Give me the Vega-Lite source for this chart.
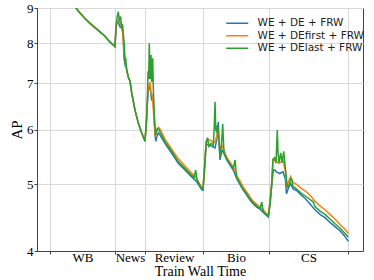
{
"$schema": "https://vega.github.io/schema/vega-lite/v6.json",
"width": 326, "height": 243,
"autosize": {"type": "none"},
"padding": {"left": 37, "top": 8, "right": 11, "bottom": 29},
"config": {"view": {"stroke": "#444", "strokeWidth": 1}, "font": "Liberation Serif"},
"data": {"values": [
{"s":"WE + DE + FRW","t":50,"ap":10.0},{"s":"WE + DE + FRW","t":60,"ap":9.6},{"s":"WE + DE + FRW","t":70,"ap":9.23},{"s":"WE + DE + FRW","t":76,"ap":9.0},{"s":"WE + DE + FRW","t":80,"ap":8.85},{"s":"WE + DE + FRW","t":85,"ap":8.69},{"s":"WE + DE + FRW","t":90,"ap":8.55},{"s":"WE + DE + FRW","t":95,"ap":8.43},{"s":"WE + DE + FRW","t":100,"ap":8.31},{"s":"WE + DE + FRW","t":105,"ap":8.19},{"s":"WE + DE + FRW","t":110,"ap":8.03},{"s":"WE + DE + FRW","t":114,"ap":7.94},{"s":"WE + DE + FRW","t":115,"ap":7.91},
{"s":"WE + DE + FRW","t":116,"ap":8.36},{"s":"WE + DE + FRW","t":116.7,"ap":8.55},{"s":"WE + DE + FRW","t":118.3,"ap":8.59},{"s":"WE + DE + FRW","t":120,"ap":8.45},{"s":"WE + DE + FRW","t":121.7,"ap":8.42},{"s":"WE + DE + FRW","t":123,"ap":8.27},{"s":"WE + DE + FRW","t":124,"ap":7.62},{"s":"WE + DE + FRW","t":125.2,"ap":7.42},{"s":"WE + DE + FRW","t":126,"ap":7.40},{"s":"WE + DE + FRW","t":126.7,"ap":7.32},{"s":"WE + DE + FRW","t":128.3,"ap":7.15},{"s":"WE + DE + FRW","t":130,"ap":7.05},{"s":"WE + DE + FRW","t":131.7,"ap":6.78},{"s":"WE + DE + FRW","t":135,"ap":6.40},{"s":"WE + DE + FRW","t":138.3,"ap":6.13},{"s":"WE + DE + FRW","t":141.7,"ap":5.93},{"s":"WE + DE + FRW","t":145,"ap":5.77},
{"s":"WE + DE + FRW","t":146.5,"ap":6.17},{"s":"WE + DE + FRW","t":147.3,"ap":6.51},{"s":"WE + DE + FRW","t":148.3,"ap":6.82},{"s":"WE + DE + FRW","t":149,"ap":6.89},{"s":"WE + DE + FRW","t":150,"ap":6.96},{"s":"WE + DE + FRW","t":151,"ap":6.73},{"s":"WE + DE + FRW","t":151.7,"ap":6.62},{"s":"WE + DE + FRW","t":153.3,"ap":6.58},{"s":"WE + DE + FRW","t":155,"ap":5.89},{"s":"WE + DE + FRW","t":155.8,"ap":5.77},{"s":"WE + DE + FRW","t":157,"ap":5.87},{"s":"WE + DE + FRW","t":158.5,"ap":5.93},{"s":"WE + DE + FRW","t":160,"ap":5.89},{"s":"WE + DE + FRW","t":165,"ap":5.73},{"s":"WE + DE + FRW","t":171.7,"ap":5.54},{"s":"WE + DE + FRW","t":178.3,"ap":5.36},{"s":"WE + DE + FRW","t":185,"ap":5.24},{"s":"WE + DE + FRW","t":191.7,"ap":5.12},{"s":"WE + DE + FRW","t":196.7,"ap":5.04},{"s":"WE + DE + FRW","t":201.7,"ap":4.91},{"s":"WE + DE + FRW","t":203,"ap":4.90},
{"s":"WE + DE + FRW","t":205,"ap":5.35},{"s":"WE + DE + FRW","t":206,"ap":5.67},{"s":"WE + DE + FRW","t":207.3,"ap":5.71},{"s":"WE + DE + FRW","t":210,"ap":5.69},{"s":"WE + DE + FRW","t":213.3,"ap":5.66},{"s":"WE + DE + FRW","t":215,"ap":5.64},{"s":"WE + DE + FRW","t":217,"ap":5.83},{"s":"WE + DE + FRW","t":218.3,"ap":6.15},{"s":"WE + DE + FRW","t":219,"ap":5.79},{"s":"WE + DE + FRW","t":220,"ap":5.42},{"s":"WE + DE + FRW","t":222,"ap":5.60},{"s":"WE + DE + FRW","t":224,"ap":5.54},{"s":"WE + DE + FRW","t":226.7,"ap":5.42},{"s":"WE + DE + FRW","t":230,"ap":5.33},{"s":"WE + DE + FRW","t":233.3,"ap":5.24},{"s":"WE + DE + FRW","t":236.7,"ap":5.09},{"s":"WE + DE + FRW","t":240,"ap":4.99},{"s":"WE + DE + FRW","t":243.3,"ap":4.90},{"s":"WE + DE + FRW","t":246.7,"ap":4.82},{"s":"WE + DE + FRW","t":250,"ap":4.74},{"s":"WE + DE + FRW","t":253.3,"ap":4.68},{"s":"WE + DE + FRW","t":256.7,"ap":4.63},{"s":"WE + DE + FRW","t":260,"ap":4.60},{"s":"WE + DE + FRW","t":263.3,"ap":4.55},{"s":"WE + DE + FRW","t":266,"ap":4.51},{"s":"WE + DE + FRW","t":268.3,"ap":4.48},
{"s":"WE + DE + FRW","t":270,"ap":4.66},{"s":"WE + DE + FRW","t":271.7,"ap":4.97},{"s":"WE + DE + FRW","t":273.3,"ap":5.24},{"s":"WE + DE + FRW","t":275,"ap":5.24},{"s":"WE + DE + FRW","t":276.3,"ap":5.21},{"s":"WE + DE + FRW","t":279.7,"ap":5.18},{"s":"WE + DE + FRW","t":283,"ap":5.21},{"s":"WE + DE + FRW","t":285.3,"ap":5.09},{"s":"WE + DE + FRW","t":286.5,"ap":4.84},{"s":"WE + DE + FRW","t":288.7,"ap":4.95},{"s":"WE + DE + FRW","t":290.7,"ap":5.01},{"s":"WE + DE + FRW","t":293,"ap":4.92},{"s":"WE + DE + FRW","t":296.3,"ap":4.90},{"s":"WE + DE + FRW","t":301.3,"ap":4.82},{"s":"WE + DE + FRW","t":305,"ap":4.77},{"s":"WE + DE + FRW","t":310,"ap":4.68},{"s":"WE + DE + FRW","t":315,"ap":4.59},{"s":"WE + DE + FRW","t":320,"ap":4.52},{"s":"WE + DE + FRW","t":325,"ap":4.47},{"s":"WE + DE + FRW","t":330,"ap":4.40},{"s":"WE + DE + FRW","t":335,"ap":4.34},{"s":"WE + DE + FRW","t":340,"ap":4.28},{"s":"WE + DE + FRW","t":345,"ap":4.20},{"s":"WE + DE + FRW","t":348.3,"ap":4.13},

{"s":"WE + DEfirst + FRW","t":50,"ap":10.0},{"s":"WE + DEfirst + FRW","t":60,"ap":9.6},{"s":"WE + DEfirst + FRW","t":70,"ap":9.23},{"s":"WE + DEfirst + FRW","t":76,"ap":9.0},{"s":"WE + DEfirst + FRW","t":80,"ap":8.85},{"s":"WE + DEfirst + FRW","t":85,"ap":8.69},{"s":"WE + DEfirst + FRW","t":90,"ap":8.55},{"s":"WE + DEfirst + FRW","t":95,"ap":8.43},{"s":"WE + DEfirst + FRW","t":100,"ap":8.31},{"s":"WE + DEfirst + FRW","t":105,"ap":8.19},{"s":"WE + DEfirst + FRW","t":110,"ap":8.03},{"s":"WE + DEfirst + FRW","t":114,"ap":7.94},{"s":"WE + DEfirst + FRW","t":115,"ap":7.91},
{"s":"WE + DEfirst + FRW","t":116,"ap":8.44},{"s":"WE + DEfirst + FRW","t":117,"ap":8.58},{"s":"WE + DEfirst + FRW","t":119,"ap":8.66},{"s":"WE + DEfirst + FRW","t":121,"ap":8.51},{"s":"WE + DEfirst + FRW","t":122.5,"ap":8.36},{"s":"WE + DEfirst + FRW","t":124,"ap":7.82},{"s":"WE + DEfirst + FRW","t":125,"ap":7.57},{"s":"WE + DEfirst + FRW","t":126.7,"ap":7.32},{"s":"WE + DEfirst + FRW","t":128.3,"ap":7.15},{"s":"WE + DEfirst + FRW","t":130,"ap":7.05},{"s":"WE + DEfirst + FRW","t":131.7,"ap":6.78},{"s":"WE + DEfirst + FRW","t":135,"ap":6.40},{"s":"WE + DEfirst + FRW","t":138.3,"ap":6.13},{"s":"WE + DEfirst + FRW","t":141.7,"ap":5.93},{"s":"WE + DEfirst + FRW","t":145,"ap":5.77},
{"s":"WE + DEfirst + FRW","t":146.5,"ap":6.22},{"s":"WE + DEfirst + FRW","t":147.3,"ap":6.62},{"s":"WE + DEfirst + FRW","t":148.3,"ap":6.89},{"s":"WE + DEfirst + FRW","t":150,"ap":7.03},{"s":"WE + DEfirst + FRW","t":151,"ap":6.80},{"s":"WE + DEfirst + FRW","t":152.5,"ap":6.71},{"s":"WE + DEfirst + FRW","t":154,"ap":6.19},{"s":"WE + DEfirst + FRW","t":155.5,"ap":5.85},{"s":"WE + DEfirst + FRW","t":157,"ap":5.99},{"s":"WE + DEfirst + FRW","t":158.5,"ap":6.04},{"s":"WE + DEfirst + FRW","t":160,"ap":6.01},{"s":"WE + DEfirst + FRW","t":165,"ap":5.81},{"s":"WE + DEfirst + FRW","t":171.7,"ap":5.62},{"s":"WE + DEfirst + FRW","t":178.3,"ap":5.44},{"s":"WE + DEfirst + FRW","t":185,"ap":5.31},{"s":"WE + DEfirst + FRW","t":191.7,"ap":5.19},{"s":"WE + DEfirst + FRW","t":196.7,"ap":5.09},{"s":"WE + DEfirst + FRW","t":201.7,"ap":4.94},{"s":"WE + DEfirst + FRW","t":203,"ap":4.93},
{"s":"WE + DEfirst + FRW","t":205,"ap":5.42},{"s":"WE + DEfirst + FRW","t":206,"ap":5.77},{"s":"WE + DEfirst + FRW","t":208,"ap":5.81},{"s":"WE + DEfirst + FRW","t":210,"ap":5.79},{"s":"WE + DEfirst + FRW","t":213.3,"ap":5.75},{"s":"WE + DEfirst + FRW","t":215,"ap":5.75},{"s":"WE + DEfirst + FRW","t":217,"ap":5.89},{"s":"WE + DEfirst + FRW","t":218.3,"ap":5.99},{"s":"WE + DEfirst + FRW","t":220,"ap":5.60},{"s":"WE + DEfirst + FRW","t":222,"ap":5.69},{"s":"WE + DEfirst + FRW","t":224,"ap":5.60},{"s":"WE + DEfirst + FRW","t":226.7,"ap":5.47},{"s":"WE + DEfirst + FRW","t":230,"ap":5.38},{"s":"WE + DEfirst + FRW","t":233.3,"ap":5.29},{"s":"WE + DEfirst + FRW","t":236.7,"ap":5.15},{"s":"WE + DEfirst + FRW","t":240,"ap":5.05},{"s":"WE + DEfirst + FRW","t":243.3,"ap":4.95},{"s":"WE + DEfirst + FRW","t":246.7,"ap":4.87},{"s":"WE + DEfirst + FRW","t":250,"ap":4.79},{"s":"WE + DEfirst + FRW","t":253.3,"ap":4.72},{"s":"WE + DEfirst + FRW","t":256.7,"ap":4.68},{"s":"WE + DEfirst + FRW","t":260,"ap":4.63},{"s":"WE + DEfirst + FRW","t":263.3,"ap":4.59},{"s":"WE + DEfirst + FRW","t":266,"ap":4.54},{"s":"WE + DEfirst + FRW","t":268.3,"ap":4.51},
{"s":"WE + DEfirst + FRW","t":270,"ap":4.74},{"s":"WE + DEfirst + FRW","t":271.7,"ap":5.03},{"s":"WE + DEfirst + FRW","t":273,"ap":5.43},{"s":"WE + DEfirst + FRW","t":275,"ap":5.41},{"s":"WE + DEfirst + FRW","t":279,"ap":5.36},{"s":"WE + DEfirst + FRW","t":283,"ap":5.41},{"s":"WE + DEfirst + FRW","t":285.3,"ap":5.22},{"s":"WE + DEfirst + FRW","t":286.7,"ap":4.95},{"s":"WE + DEfirst + FRW","t":288.7,"ap":5.05},{"s":"WE + DEfirst + FRW","t":290.7,"ap":5.13},{"s":"WE + DEfirst + FRW","t":293,"ap":5.03},{"s":"WE + DEfirst + FRW","t":296.3,"ap":5.00},{"s":"WE + DEfirst + FRW","t":301.3,"ap":4.93},{"s":"WE + DEfirst + FRW","t":305,"ap":4.89},{"s":"WE + DEfirst + FRW","t":310,"ap":4.82},{"s":"WE + DEfirst + FRW","t":315,"ap":4.72},{"s":"WE + DEfirst + FRW","t":320,"ap":4.65},{"s":"WE + DEfirst + FRW","t":325,"ap":4.59},{"s":"WE + DEfirst + FRW","t":330,"ap":4.52},{"s":"WE + DEfirst + FRW","t":335,"ap":4.45},{"s":"WE + DEfirst + FRW","t":340,"ap":4.37},{"s":"WE + DEfirst + FRW","t":345,"ap":4.30},{"s":"WE + DEfirst + FRW","t":348.3,"ap":4.24},

{"s":"WE + DElast + FRW","t":50,"ap":10.0},{"s":"WE + DElast + FRW","t":60,"ap":9.6},{"s":"WE + DElast + FRW","t":70,"ap":9.23},{"s":"WE + DElast + FRW","t":76,"ap":9.0},{"s":"WE + DElast + FRW","t":80,"ap":8.85},{"s":"WE + DElast + FRW","t":85,"ap":8.69},{"s":"WE + DElast + FRW","t":90,"ap":8.55},{"s":"WE + DElast + FRW","t":95,"ap":8.43},{"s":"WE + DElast + FRW","t":100,"ap":8.31},{"s":"WE + DElast + FRW","t":105,"ap":8.19},{"s":"WE + DElast + FRW","t":110,"ap":8.03},{"s":"WE + DElast + FRW","t":114,"ap":7.94},{"s":"WE + DElast + FRW","t":115,"ap":7.91},
{"s":"WE + DElast + FRW","t":116,"ap":8.51},{"s":"WE + DElast + FRW","t":117,"ap":8.70},{"s":"WE + DElast + FRW","t":118.3,"ap":8.89},{"s":"WE + DElast + FRW","t":119.3,"ap":8.65},{"s":"WE + DElast + FRW","t":120.7,"ap":8.75},{"s":"WE + DElast + FRW","t":121.7,"ap":8.41},{"s":"WE + DElast + FRW","t":122.5,"ap":8.53},{"s":"WE + DElast + FRW","t":123.3,"ap":8.26},{"s":"WE + DElast + FRW","t":124.3,"ap":7.95},{"s":"WE + DElast + FRW","t":125,"ap":7.53},{"s":"WE + DElast + FRW","t":125.7,"ap":7.62},{"s":"WE + DElast + FRW","t":126.7,"ap":7.32},{"s":"WE + DElast + FRW","t":128.3,"ap":7.15},{"s":"WE + DElast + FRW","t":130,"ap":7.05},{"s":"WE + DElast + FRW","t":131.7,"ap":6.78},{"s":"WE + DElast + FRW","t":135,"ap":6.40},{"s":"WE + DElast + FRW","t":138.3,"ap":6.13},{"s":"WE + DElast + FRW","t":141.7,"ap":5.93},{"s":"WE + DElast + FRW","t":145,"ap":5.77},
{"s":"WE + DElast + FRW","t":146.5,"ap":6.19},{"s":"WE + DElast + FRW","t":147.3,"ap":6.58},{"s":"WE + DElast + FRW","t":148,"ap":7.29},{"s":"WE + DElast + FRW","t":148.7,"ap":7.10},{"s":"WE + DElast + FRW","t":149.3,"ap":8.00},{"s":"WE + DElast + FRW","t":150,"ap":7.10},{"s":"WE + DElast + FRW","t":151,"ap":7.69},{"s":"WE + DElast + FRW","t":151.7,"ap":7.03},{"s":"WE + DElast + FRW","t":152.7,"ap":7.61},{"s":"WE + DElast + FRW","t":153.3,"ap":6.89},{"s":"WE + DElast + FRW","t":154.3,"ap":6.30},{"s":"WE + DElast + FRW","t":155.7,"ap":5.89},{"s":"WE + DElast + FRW","t":157.3,"ap":6.02},{"s":"WE + DElast + FRW","t":158.5,"ap":6.02},{"s":"WE + DElast + FRW","t":160,"ap":5.95},{"s":"WE + DElast + FRW","t":165,"ap":5.76},{"s":"WE + DElast + FRW","t":171.7,"ap":5.58},{"s":"WE + DElast + FRW","t":178.3,"ap":5.39},{"s":"WE + DElast + FRW","t":185,"ap":5.27},{"s":"WE + DElast + FRW","t":191.7,"ap":5.15},{"s":"WE + DElast + FRW","t":194,"ap":5.11},{"s":"WE + DElast + FRW","t":195.7,"ap":5.24},{"s":"WE + DElast + FRW","t":197,"ap":5.07},{"s":"WE + DElast + FRW","t":201.7,"ap":4.93},{"s":"WE + DElast + FRW","t":203,"ap":4.91},
{"s":"WE + DElast + FRW","t":205,"ap":5.42},{"s":"WE + DElast + FRW","t":206,"ap":5.71},{"s":"WE + DElast + FRW","t":207.5,"ap":5.84},{"s":"WE + DElast + FRW","t":209,"ap":5.67},{"s":"WE + DElast + FRW","t":211,"ap":5.73},{"s":"WE + DElast + FRW","t":213.3,"ap":5.69},{"s":"WE + DElast + FRW","t":214.3,"ap":6.09},{"s":"WE + DElast + FRW","t":215,"ap":6.58},{"s":"WE + DElast + FRW","t":215.8,"ap":5.99},{"s":"WE + DElast + FRW","t":216.7,"ap":5.96},{"s":"WE + DElast + FRW","t":217.5,"ap":6.09},{"s":"WE + DElast + FRW","t":218.3,"ap":5.89},{"s":"WE + DElast + FRW","t":219,"ap":5.79},{"s":"WE + DElast + FRW","t":220,"ap":5.46},{"s":"WE + DElast + FRW","t":221.5,"ap":5.71},{"s":"WE + DElast + FRW","t":222.7,"ap":6.11},{"s":"WE + DElast + FRW","t":224,"ap":5.54},{"s":"WE + DElast + FRW","t":226.7,"ap":5.44},{"s":"WE + DElast + FRW","t":230,"ap":5.35},{"s":"WE + DElast + FRW","t":233.3,"ap":5.27},{"s":"WE + DElast + FRW","t":235,"ap":5.42},{"s":"WE + DElast + FRW","t":236.7,"ap":5.11},{"s":"WE + DElast + FRW","t":240,"ap":5.01},{"s":"WE + DElast + FRW","t":243.3,"ap":4.91},{"s":"WE + DElast + FRW","t":246.7,"ap":4.84},{"s":"WE + DElast + FRW","t":250,"ap":4.76},{"s":"WE + DElast + FRW","t":253.3,"ap":4.70},{"s":"WE + DElast + FRW","t":256.7,"ap":4.65},{"s":"WE + DElast + FRW","t":260,"ap":4.61},{"s":"WE + DElast + FRW","t":261.7,"ap":4.71},{"s":"WE + DElast + FRW","t":263.3,"ap":4.56},{"s":"WE + DElast + FRW","t":266,"ap":4.52},{"s":"WE + DElast + FRW","t":268.3,"ap":4.49},
{"s":"WE + DElast + FRW","t":270,"ap":4.69},{"s":"WE + DElast + FRW","t":271.7,"ap":5.00},{"s":"WE + DElast + FRW","t":273,"ap":5.43},{"s":"WE + DElast + FRW","t":274.7,"ap":5.46},{"s":"WE + DElast + FRW","t":276,"ap":5.36},{"s":"WE + DElast + FRW","t":277.3,"ap":5.99},{"s":"WE + DElast + FRW","t":278,"ap":5.55},{"s":"WE + DElast + FRW","t":279,"ap":5.37},{"s":"WE + DElast + FRW","t":280.7,"ap":5.55},{"s":"WE + DElast + FRW","t":282,"ap":5.37},{"s":"WE + DElast + FRW","t":283.7,"ap":5.58},{"s":"WE + DElast + FRW","t":284.7,"ap":5.39},{"s":"WE + DElast + FRW","t":286.3,"ap":5.12},{"s":"WE + DElast + FRW","t":287.3,"ap":4.95},{"s":"WE + DElast + FRW","t":289,"ap":4.98},{"s":"WE + DElast + FRW","t":290.7,"ap":5.09},{"s":"WE + DElast + FRW","t":292,"ap":5.07},{"s":"WE + DElast + FRW","t":293,"ap":4.95},{"s":"WE + DElast + FRW","t":294.7,"ap":4.95},{"s":"WE + DElast + FRW","t":298,"ap":4.90},{"s":"WE + DElast + FRW","t":301.3,"ap":4.85},{"s":"WE + DElast + FRW","t":305,"ap":4.81},{"s":"WE + DElast + FRW","t":310,"ap":4.75},{"s":"WE + DElast + FRW","t":313.3,"ap":4.71},{"s":"WE + DElast + FRW","t":315,"ap":4.64},{"s":"WE + DElast + FRW","t":320,"ap":4.57},{"s":"WE + DElast + FRW","t":325,"ap":4.52},{"s":"WE + DElast + FRW","t":330,"ap":4.45},{"s":"WE + DElast + FRW","t":335,"ap":4.38},{"s":"WE + DElast + FRW","t":340,"ap":4.32},{"s":"WE + DElast + FRW","t":345,"ap":4.24},{"s":"WE + DElast + FRW","t":348.3,"ap":4.19}
]},
"mark": {"type": "line", "strokeWidth": 1.5, "clip": true},
"encoding": {
  "x": {"field": "t", "type": "quantitative",
    "scale": {"domain": [37, 363], "nice": false, "zero": false},
    "axis": {
      "values": [50, 82.5, 115, 130, 145, 174, 203, 236, 269, 308.5, 348],
      "labelExpr": "datum.value == 82.5 ? 'WB' : datum.value == 130 ? 'News' : datum.value == 174 ? 'Review' : datum.value == 236 ? 'Bio' : datum.value == 308.5 ? 'CS' : ''",
      "labelOverlap": false, "labelFlush": false, "labelBound": false,
      "labelFont": "Liberation Serif", "labelFontSize": 13, "labelColor": "#000", "labelPadding": -3,
      "tickSize": 3, "tickColor": "#444",
      "tickOpacity": {"condition": {"test": "datum.value == 50 || datum.value == 115 || datum.value == 145 || datum.value == 203 || datum.value == 269 || datum.value == 348", "value": 1}, "value": 0},
      "grid": true, "gridColor": "#d8d8d8",
      "gridOpacity": {"condition": {"test": "datum.value == 50 || datum.value == 115 || datum.value == 145 || datum.value == 203 || datum.value == 269 || datum.value == 348", "value": 1}, "value": 0},
      "domainColor": "#444",
      "title": "Train Wall Time", "titleFont": "Liberation Serif", "titleFontSize": 14, "titleFontWeight": "normal", "titleColor": "#000", "titlePadding": 0
    }},
  "y": {"field": "ap", "type": "quantitative",
    "scale": {"type": "log", "domain": [4, 9], "nice": false},
    "axis": {
      "values": [4, 5, 6, 7, 8, 9],
      "labelFont": "Liberation Serif", "labelFontSize": 13, "labelColor": "#000", "labelPadding": 1,
      "tickSize": 3, "tickColor": "#444", "domainColor": "#444",
      "grid": true, "gridColor": "#d8d8d8",
      "title": "AP", "titleFont": "Liberation Serif", "titleFontSize": 15, "titleFontWeight": "normal", "titleColor": "#000", "titlePadding": 2
    }},
  "color": {"field": "s", "type": "nominal",
    "scale": {"domain": ["WE + DE + FRW", "WE + DEfirst + FRW", "WE + DElast + FRW"], "range": ["#1f77b4", "#ff7f0e", "#2ca02c"]},
    "legend": {
      "orient": "none", "legendX": 195, "legendY": 10, "direction": "vertical",
      "title": null, "padding": 0, "rowPadding": 1.5,
      "symbolType": "M-4.4,0H4.4", "symbolSize": 25, "symbolStrokeWidth": 1.5,
      "labelFont": "DejaVu Sans", "labelFontSize": 10.5, "labelColor": "#222", "labelOffset": 15
    }}
}
}
